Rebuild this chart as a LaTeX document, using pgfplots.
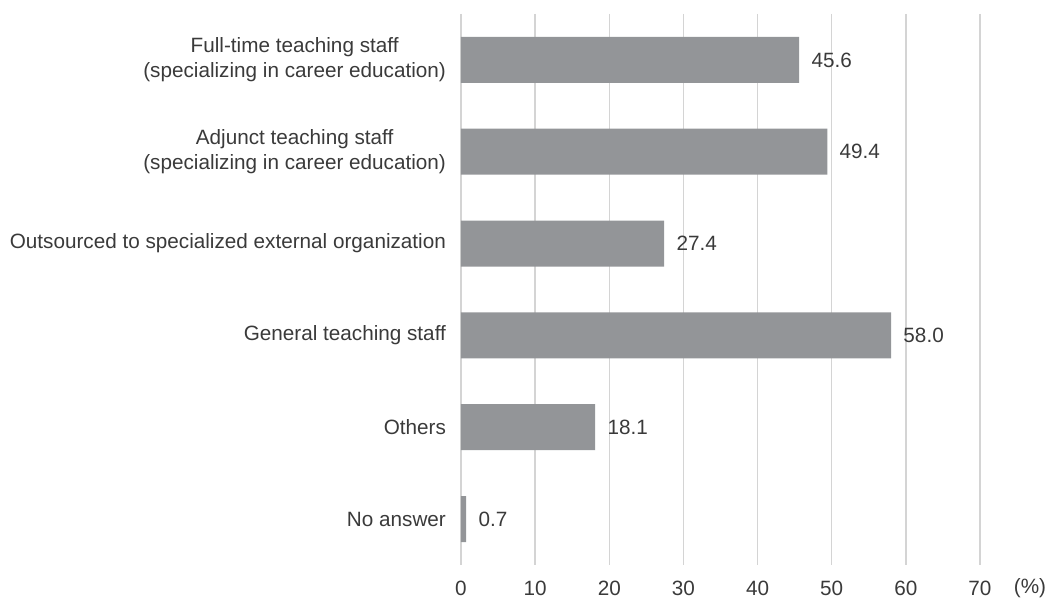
\documentclass[border=0pt]{standalone}
\usepackage{fontspec}
\setmainfont{Liberation Sans}
\usepackage{pgfplots}
\pgfplotsset{compat=1.18}
\definecolor{barc}{HTML}{939598}
\definecolor{gridc}{HTML}{D4D4D4}
\definecolor{txt}{HTML}{3A3A3A}
\newcommand{\fs}{\fontsize{10.35}{12.4}\selectfont}
\begin{document}
\begin{tikzpicture}
\begin{axis}[
  scale only axis,
  width=259.5pt, height=275.5pt,
  xbar, bar width=23pt,
  xmin=0, xmax=70,
  ymin=-0.5, ymax=5.5,
  y dir=reverse,
  axis line style={draw=none},
  axis lines*=left,
  xtick={0,10,...,70},
  ytick={0,...,5},
  yticklabels={{Full-time teaching staff\\(specializing in career education)},
               {Adjunct teaching staff\\(specializing in career education)},
               {Outsourced to specialized external organization},
               {General teaching staff},
               {Others},
               {No answer}},
  yticklabel style={align=center, xshift=-4pt, text=txt, font=\fs},
  xticklabel style={yshift=-4.6pt, text=txt, font=\fs},
  /pgf/number format/assume math mode=true,
  major tick length=0pt,
  xmajorgrids, grid style={gridc, line width=0.75pt},
  clip=false,
  nodes near coords,
  nodes near coords style={anchor=west, xshift=2.7pt, text=txt, font=\fs, /pgf/number format/.cd, fixed, fixed zerofill, precision=1},
  point meta=explicit,
]
\addplot[fill=barc, draw=none] table[x=v, y=c, meta=v] {
c v
0 45.6
1 49.4
2 27.4
3 58.0
4 18.1
5 0.7
};
\node[anchor=center, text=txt, font=\fs, xshift=25pt, yshift=-11.5pt] at (rel axis cs:1,0) {(\%)};
\coordinate (bl) at (rel axis cs:0,0);
\coordinate (tr) at (rel axis cs:1,1);
\end{axis}
\pgfresetboundingbox
\path ([shift={(-230.5pt,-19pt)}]bl) rectangle ([shift={(35.5pt,7pt)}]tr);
\end{tikzpicture}
\end{document}
